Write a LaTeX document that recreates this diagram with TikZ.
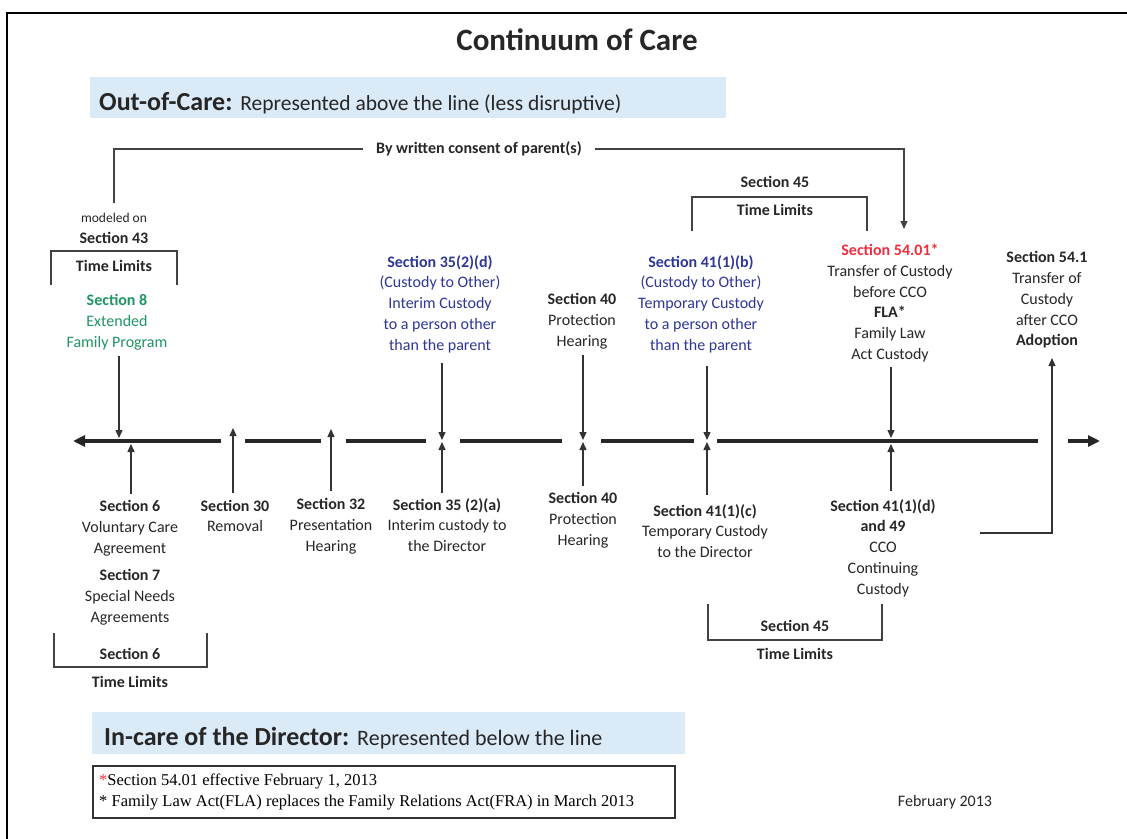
\documentclass[tikz,border=0pt]{standalone}
\usepackage{fontspec}
\setmainfont{Carlito}
\newfontfamily\notefont{Liberation Serif}
\usetikzlibrary{arrows.meta}

\definecolor{bandblue}{RGB}{219,234,247}
\definecolor{secblue}{RGB}{46,54,152}
\definecolor{secgreen}{RGB}{32,148,98}
\definecolor{secred}{RGB}{238,46,62}
\definecolor{inkgray}{RGB}{66,66,66}

\tikzset{
  lbl/.style={align=center, inner sep=0pt, text=black!85,
    font=\fontsize{16}{20.8}\selectfont},
  bl/.style={lbl, font=\fontsize{16}{20.8}\selectfont\bfseries},
  pointer/.style={draw=black!80, line width=1.3pt,
    -{Triangle[length=8pt,width=7pt]}},
  bracket/.style={draw=inkgray, line width=1.2pt},
  timeline/.style={draw=black!85, line width=3.5pt},
}

\begin{document}
\begin{tikzpicture}[x=1pt, y=-1pt]
\useasboundingbox (0,0) rectangle (1127,838);
% frame
\draw[line width=2.2pt] (7,845) -- (7,13) -- (1135,13);

% heads
\node[inner sep=0pt, text=black!85, font=\fontsize{31}{36}\selectfont\bfseries]
  (title) at (577,40) {Continuum of Care};
\fill[bandblue] (90,77) rectangle (726,118);
\node[anchor=base west, inner sep=0pt, text=black!85] (outcare) at (99,110)
  {\fontsize{26}{30}\selectfont\bfseries Out-of-Care:
   \fontsize{21.5}{26}\selectfont\mdseries Represented above the line (less disruptive)};
\fill[bandblue] (92,712) rectangle (685,754);
\node[anchor=base west, inner sep=0pt, text=black!85] (incare) at (104,745)
  {\fontsize{26}{30}\selectfont\bfseries In-care of the Director:
   \fontsize{22}{26}\selectfont\mdseries Represented below the line};

% above the line
\node[bl, inner xsep=13pt] (consent) at (479,149) {By written consent of parent(s)};
\node[lbl, font=\fontsize{13.5}{16}\selectfont] (modeled) at (114,218) {modeled on};
\node[bl] (sec43) at (114,238) {Section 43};
\node[bl] (tl43) at (114,266) {Time Limits};
\node[lbl, text=secgreen] (sec8) at (117,322)
  {\textbf{Section 8}\\Extended\\Family Program};
\node[lbl, text=secblue] (sec35d) at (440,304)
  {\textbf{Section 35(2)(d)}\\(Custody to Other)\\Interim Custody\\to a person other\\than the parent};
\node[lbl] (sec40a) at (582,321) {\textbf{Section 40}\\Protection\\Hearing};
\node[lbl, text=secblue] (sec41b) at (701,304)
  {\textbf{Section 41(1)(b)}\\(Custody to Other)\\Temporary Custody\\to a person other\\than the parent};
\node[bl] (sec45a) at (775,182) {Section 45};
\node[bl] (tl45a) at (775,210) {Time Limits};
\node[lbl] (sec5401) at (890,303)
  {\textcolor{secred}{\textbf{Section 54.01*}}\\Transfer of Custody\\before CCO\\\textbf{FLA*}\\Family Law\\Act Custody};
\node[lbl] (sec541) at (1047,300)
  {\textbf{Section 54.1}\\Transfer of\\Custody\\after CCO\\\textbf{Adoption}};

% below the line
\node[lbl] (sec6) at (130,528) {\textbf{Section 6}\\Voluntary Care\\Agreement};
\node[lbl] (sec7) at (130,597) {\textbf{Section 7}\\Special Needs\\Agreements};
\node[bl] (sec6b) at (130,654) {Section 6};
\node[bl] (tl6) at (130,682) {Time Limits};
\node[lbl] (sec30) at (235,516) {\textbf{Section 30}\\Removal};
\node[lbl] (sec32) at (331,526) {\textbf{Section 32}\\Presentation\\Hearing};
\node[lbl] (sec35a) at (447,525) {\textbf{Section 35 (2)(a)}\\Interim custody to\\the Director};
\node[lbl] (sec40b) at (583,520) {\textbf{Section 40}\\Protection\\Hearing};
\node[lbl] (sec41c) at (705,531) {\textbf{Section 41(1)(c)}\\Temporary Custody\\to the Director};
\node[lbl] (sec41d) at (883,548)
  {\textbf{Section 41(1)(d)}\\\textbf{and 49}\\CCO\\Continuing\\Custody};
\node[bl] (sec45b) at (795,626) {Section 45};
\node[bl] (tl45b) at (795,654) {Time Limits};

% notes
\draw[draw=black!80, line width=1.3pt] (93,766) rectangle (675,818);
\node[anchor=base west, inner sep=0pt, font=\notefont\fontsize{16.5}{19}\selectfont]
  (note1) at (99,785) {\textcolor{secred}{*}Section 54.01 effective February 1, 2013};
\node[anchor=base west, inner sep=0pt, font=\notefont\fontsize{16.5}{19}\selectfont]
  (note2) at (99,806) {* Family Law Act(FLA) replaces the Family Relations Act(FRA) in March 2013};
\node[lbl] (date) at (945,802) {February 2013};

% time limit brackets
\draw[bracket] (51,285) |- (177,251) -- (177,285);
\draw[bracket] (692,231) |- (867,197) -- (867,231);
\draw[bracket] (54,633) |- (207,667) -- (207,633);
\draw[bracket] (708,604) |- (882,640) -- (882,604);

% the line
\draw[timeline, {Triangle[length=12pt,width=11pt]}-] (73,441) -- (221,441);
\foreach \a/\b in {245/321, 346/426, 460/562, 601/694, 717/1038}
  \draw[timeline] (\a,441) -- (\b,441);
\draw[timeline, -{Triangle[length=12pt,width=11pt]}] (1068,441) -- (1100,441);

% arrow ends on the line
\coordinate (d8) at (119,438);
\coordinate (d35) at (442,440);
\coordinate (d40) at (583,440);
\coordinate (d41) at (707,440);
\coordinate (d54) at (891,438);
\coordinate (u6) at (131,444);
\coordinate (u30) at (233,428);
\coordinate (u32) at (331,429);
\coordinate (u35) at (442,442);
\coordinate (u40) at (583,442);
\coordinate (u41) at (707,442);
\coordinate (u41d) at (891,444);
\coordinate (c43) at (114,203);
\coordinate (t5401) at (904,229);
\coordinate (e541) at (980,533);
\coordinate (t541) at (1052,358);

% connectors
\draw[bracket] (c43) |- (consent.west);
\draw[pointer, draw=inkgray, line width=1.2pt] (consent.east) -| (t5401);
\draw[pointer] (sec8.south -| d8) ++(0,6) -- (d8);
\draw[pointer] (sec35d.south -| d35) ++(0,10) -- (d35);
\draw[pointer] (sec40a.south -| d40) ++(0,6) -- (d40);
\draw[pointer] (sec41b.south -| d41) ++(0,13) -- (d41);
\draw[pointer] (sec5401.south -| d54) ++(0,5) -- (d54);
\draw[pointer] (sec6.north -| u6) ++(0,-6) -- (u6);
\draw[pointer] (sec30.north -| u30) ++(0,-7) -- (u30);
\draw[pointer] (sec32.north -| u32) ++(0,-7) -- (u32);
\draw[pointer] (sec35a.north -| u35) ++(0,-5) -- (u35);
\draw[pointer] (sec40b.north -| u40) ++(0,-6) -- (u40);
\draw[pointer] (sec41c.north -| u41) ++(0,-9) -- (u41);
\draw[pointer] (sec41d.north -| u41d) ++(0,-8) -- (u41d);
\draw[pointer] (e541) -| (t541);
\end{tikzpicture}
\end{document}
